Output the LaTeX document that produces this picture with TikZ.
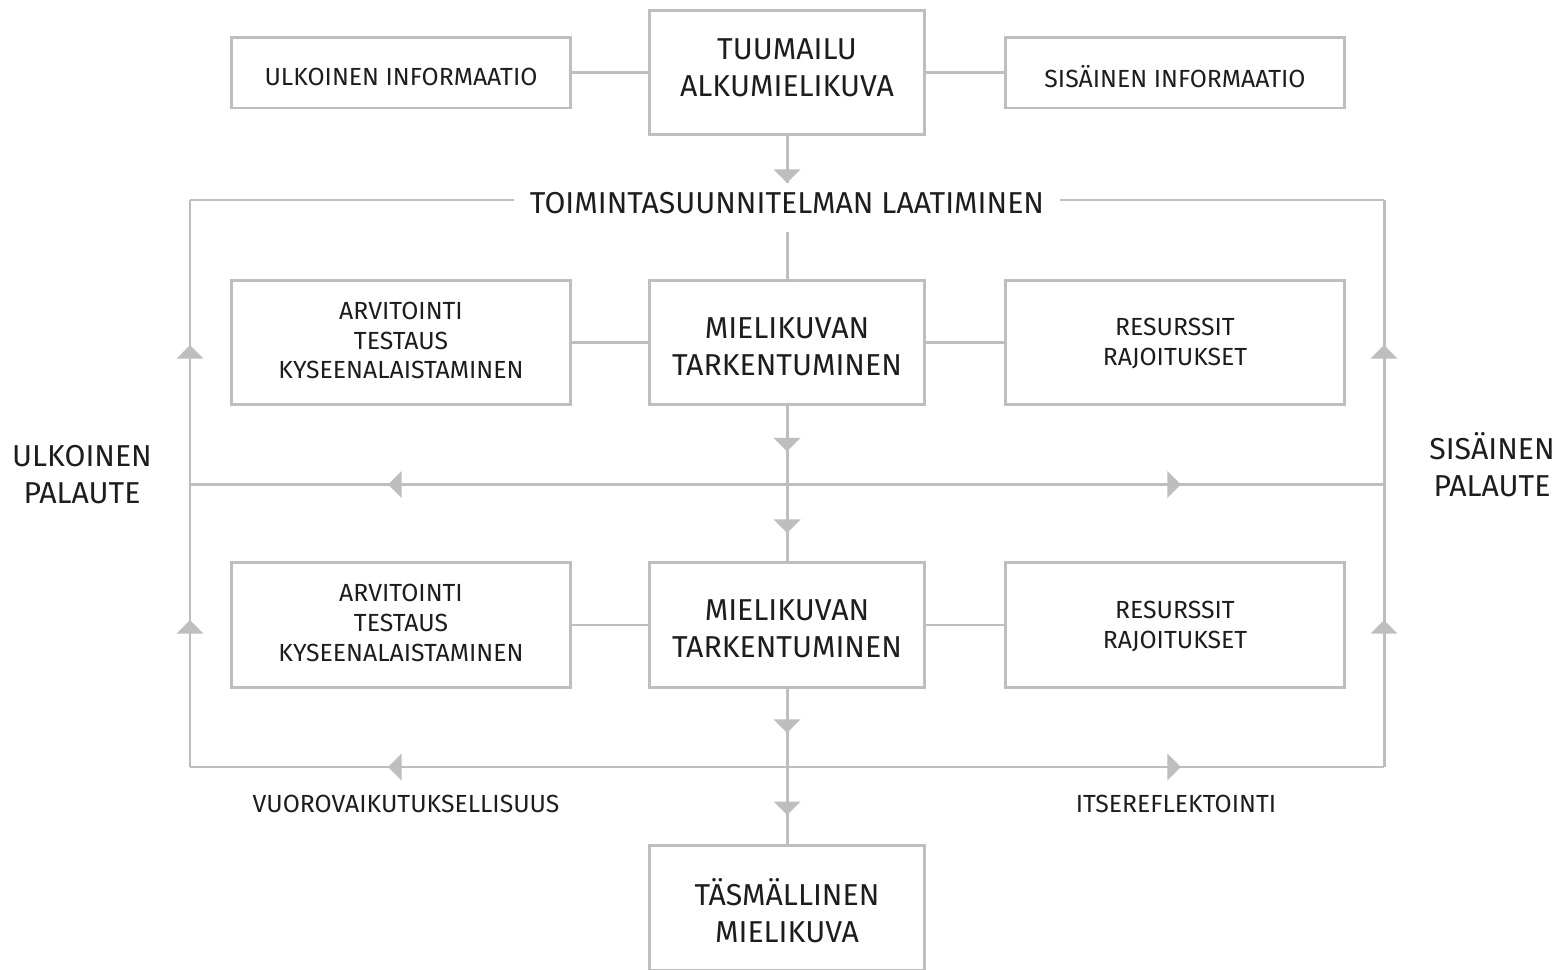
\documentclass[tikz,border=0pt]{standalone}
\usepackage{fontspec}
\setmainfont{Fira Sans}
\usetikzlibrary{decorations.markings}
\definecolor{linegray}{HTML}{BCBEC0}
\definecolor{txt}{HTML}{1F1C1D}
\newcommand{\bigtxt}{\fontsize{17.2}{21}\selectfont}
\newcommand{\smalltxt}{\fontsize{14.1}{17}\selectfont}
\tikzset{
  conn/.style={draw=linegray, line width=1.7pt},
  tri/.style={postaction={decorate,decoration={markings,
      mark=at position #1 with {\fill[linegray] (0pt,0pt) -- (-0.27cm,0.27cm) -- (-0.27cm,-0.27cm) -- cycle;}}}},
  frame/.style={draw=linegray, line width=1.7pt, inner sep=0pt},
  mainbox/.style={frame, minimum width=5.52cm, minimum height=2.5cm},
  sidebox/.style={frame, minimum width=6.8cm, minimum height=2.5cm},
  infobox/.style={frame, minimum width=6.8cm, minimum height=1.42cm},
  bigl/.style={text=txt, font=\bigtxt, align=center, inner sep=0pt},
  smalll/.style={text=txt, font=\smalltxt, align=center, inner sep=0pt}
}
\begin{document}
\begin{tikzpicture}[x=0.02cm, y=-0.02cm]
\clip (0,0) rectangle (1563,970);
\fill[white] (0,0) rectangle (1563,970);

% top row
\node[mainbox, label={[bigl, yshift=2.8pt]center:{TUUMAILU\\ALKUMIELIKUVA}}] (t) at (787,72.5) {};
\node[infobox, label={[smalll, yshift=-2.6pt]center:{ULKOINEN INFORMAATIO}}] (ui) at (401,72.5) {};
\node[infobox, label={[smalll, yshift=-2.4pt]center:{SISÄINEN INFORMAATIO}}] (si) at (1175,72.5) {};

% plan label
\node[bigl, inner xsep=0.32cm] (plan) at (787,203.5) {TOIMINTASUUNNITELMAN LAATIMINEN};

% row 1
\node[mainbox, label={[bigl, yshift=-2.5pt]center:{MIELIKUVAN\\TARKENTUMINEN}}] (m1) at (787,342.5) {};
\node[sidebox, label={[smalll, yshift=1.1pt]center:{ARVITOINTI\\TESTAUS\\KYSEENALAISTAMINEN}}] (a1) at (401,342.5) {};
\node[sidebox, label={[smalll, yshift=-0.8pt]center:{RESURSSIT\\RAJOITUKSET}}] (r1) at (1175,342.5) {};

% row 2
\node[mainbox, label={[bigl, yshift=-2.3pt]center:{MIELIKUVAN\\TARKENTUMINEN}}] (m2) at (787,625) {};
\node[sidebox, label={[smalll, yshift=1.1pt]center:{ARVITOINTI\\TESTAUS\\KYSEENALAISTAMINEN}}] (a2) at (401,625) {};
\node[sidebox, label={[smalll, yshift=-0.8pt]center:{RESURSSIT\\RAJOITUKSET}}] (r2) at (1175,625) {};

% final
\node[mainbox, label={[bigl, yshift=-1.4pt]center:{TÄSMÄLLINEN\\MIELIKUVA}}] (fin) at (787,908) {};

% side labels
\node[bigl] (ulk) at (82,475) {ULKOINEN\\PALAUTE};
\node[bigl] (sis) at (1492,465) {SISÄINEN\\PALAUTE};
\node[smalll] (vuoro) at (406,804) {VUOROVAIKUTUKSELLISUUS};
\node[smalll] (itse) at (1176,804) {ITSEREFLEKTOINTI};

% coordinates
\coordinate (plantop) at (787,183);
\coordinate (plandown) at (787,232);
\coordinate (fl) at (190,200);
\coordinate (fr) at (1384,200);
\coordinate (h1l) at (190,484.5);
\coordinate (h1r) at (1384,484.5);
\coordinate (h1c) at (787,484.5);
\coordinate (h2l) at (190,767);
\coordinate (h2r) at (1384,767);
\coordinate (h2c) at (787,767);

% top connectors
\draw[conn] (ui) -- (t);
\draw[conn] (t) -- (si);
\draw[conn, tri=0.93cm] (t.south) -- (plantop);
\draw[conn] (plandown) -- (m1.north);

% frame top
\draw[conn] (fl -| plan.west) -- (fl);
\draw[conn] (fr -| plan.east) -- (fr);

% verticals
\draw[conn, tri=2.94cm] (h2l) -- (h1l);
\draw[conn, tri=2.79cm] (h1l) -- (fl);
\draw[conn, tri=2.94cm] (h2r) -- (h1r);
\draw[conn, tri=2.79cm] (h1r) -- (fr);

% horizontals
\draw[conn, tri=7.98cm] (h1c) -- (h1l);
\draw[conn, tri=7.88cm] (h1c) -- (h1r);
\draw[conn, tri=7.98cm] (h2c) -- (h2l);
\draw[conn, tri=7.88cm] (h2c) -- (h2r);

% center flow
\draw[conn, tri=0.9cm] (m1.south) -- (h1c);
\draw[conn, tri=0.97cm] (h1c) -- (m2.north);
\draw[conn, tri=0.88cm] (m2.south) -- (h2c);
\draw[conn, tri=0.96cm] (h2c) -- (fin.north);

% side connectors
\draw[conn] (a1) -- (m1);
\draw[conn] (m1) -- (r1);
\draw[conn] (a2) -- (m2);
\draw[conn] (m2) -- (r2);
\end{tikzpicture}
\end{document}
